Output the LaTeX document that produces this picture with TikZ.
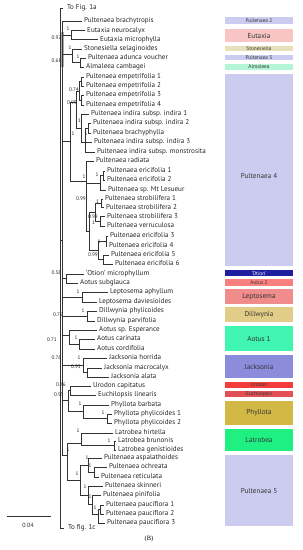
\documentclass[tikz,border=0pt]{standalone}
\usepackage{fontspec}
\setmainfont{PT Sans}
\newfontfamily\serifB{Liberation Serif}
\definecolor{lav}{HTML}{CCCCF0}
\definecolor{eutx}{HTML}{F8C4C4}
\definecolor{ston}{HTML}{E8E0B8}
\definecolor{alma}{HTML}{B4F5D7}
\definecolor{otion}{HTML}{1E1EA0}
\definecolor{aot2}{HTML}{FA8080}
\definecolor{lept}{HTML}{F08C8C}
\definecolor{dill}{HTML}{E1CD87}
\definecolor{aot1}{HTML}{40F5AF}
\definecolor{jack}{HTML}{8C8CDC}
\definecolor{urod}{HTML}{F53C3C}
\definecolor{euch}{HTML}{E15055}
\definecolor{phyl}{HTML}{D2B946}
\definecolor{latr}{HTML}{1EF082}
\begin{document}
\begin{tikzpicture}[x=1pt,y=-1pt,
  br/.style={line width=0.6pt, draw=black!80},
  tip/.style={anchor=west, inner xsep=2pt, inner ysep=0pt, text height=4.9pt, text depth=1.3pt, font=\fontsize{7.1}{7.2}\selectfont, text=black!85},
  far/.style={tip, inner xsep=4pt},
  sup/.style={inner sep=0pt, font=\fontsize{5.2}{5.2}\selectfont, text=black!85},
  supr/.style={sup, anchor=east},
  cbox/.style={minimum width=68pt, inner sep=0pt, text=black!80, font=\fontsize{7.2}{7.2}\selectfont},
  sbox/.style={cbox, font=\fontsize{5.3}{5.3}\selectfont}
]
\useasboundingbox (0,0) rectangle (303,550);
% gray bar
\fill[gray!65] (61,32) rectangle (63.6,67);
% tips
\node[far] (ta) at (63,8) {To Fig. 1a};
\node[far] (tc) at (64,528) {To fig. 1c};
\node[tip] (t1) at (82,21) {Pultenaea brachytropis};
\node[tip] (t2) at (85,30.5) {Eutaxia neurocalyx};
\node[tip] (t3) at (98,39.5) {Eutaxia microphylla};
\node[tip] (t4) at (82,49) {Stonesiella selaginoides};
\node[tip] (t5) at (86,58) {Pultenaea adunca voucher};
\node[tip] (t6) at (84,67) {Almaleea cambagei};
\node[tip] (t7) at (84,77) {Pultenaea empetrifolia 1};
\node[tip] (t8) at (84,86) {Pultenaea empetrifolia 2};
\node[tip] (t9) at (84,95) {Pultenaea empetrifolia 3};
\node[tip] (t10) at (84,105) {Pultenaea empetrifolia 4};
\node[tip] (t11) at (89,114) {Pultenaea indira subsp. indira 1};
\node[tip] (t12) at (91,123) {Pultenaea indira subsp. indira 2};
\node[tip] (t13) at (91,133) {Pultenaea brachyphylla};
\node[tip] (t14) at (92,142) {Pultenaea indira subsp. indira 3};
\node[tip] (t15) at (95,152) {Pultenaea indira subsp. monstrosita};
\node[tip] (t16) at (94,161) {Pultenaea radiata};
\node[tip] (t17) at (105,171) {Pultenaea ericifolia 1};
\node[tip] (t18) at (105,180) {Pultenaea ericifolia 2};
\node[tip] (t19) at (106,190) {Pultenaea sp. Mt Lesueur};
\node[tip] (t20) at (103,199) {Pultenaea strobilifera 1};
\node[tip] (t21) at (104,207.5) {Pultenaea strobilifera 2};
\node[tip] (t22) at (105,216.5) {Pultenaea strobilifera 3};
\node[tip] (t23) at (105,226) {Pultenaea verruculosa};
\node[tip] (t24) at (108,236) {Pultenaea ericifolia 3};
\node[tip] (t25) at (107,246) {Pultenaea ericifolia 4};
\node[tip] (t26) at (109,255) {Pultenaea ericifolia 5};
\node[tip] (t27) at (113,264) {Pultenaea ericifolia 6};
\node[tip] (t28) at (84,274) {‘Otion’ microphyllum};
\node[tip] (t29) at (78,283) {Aotus subglauca};
\node[tip] (t30) at (108,292) {Leptosema aphyllum};
\node[tip] (t31) at (97,302) {Leptosema daviesioides};
\node[tip] (t32) at (97,311) {Dillwynia phylicoides};
\node[tip] (t33) at (95,321) {Dillwynia parvifolia};
\node[tip] (t34) at (97,330) {Aotus sp. Esperance};
\node[tip] (t35) at (95,339) {Aotus carinata};
\node[tip] (t36) at (95,349) {Aotus cordifolia};
\node[tip] (t37) at (107,358) {Jacksonia horrida};
\node[tip] (t38) at (102,368) {Jacksonia macrocalyx};
\node[tip] (t39) at (109,377) {Jacksonia alata};
\node[tip] (t40) at (91,386) {Urodon capitatus};
\node[tip] (t41) at (96,395) {Euchilopsis linearis};
\node[tip] (t42) at (109,405) {Phyllota barbata};
\node[tip] (t43) at (112,414) {Phyllota phylicoides 1};
\node[tip] (t44) at (112,423) {Phyllota phylicoides 2};
\node[tip] (t45) at (113,433) {Latrobea hirtella};
\node[tip] (t46) at (116,441) {Latrobea brunonis};
\node[tip] (t47) at (116,450) {Latrobea genistioides};
\node[tip] (t48) at (102,458) {Pultenaea aspalathoides};
\node[tip] (t49) at (107,467) {Pultenaea ochreata};
\node[tip] (t50) at (99,477) {Pultenaea reticulata};
\node[tip] (t51) at (103,486) {Pultenaea skinneri};
\node[tip] (t52) at (101,495) {Pultenaea pinifolia};
\node[tip] (t53) at (104,505) {Pultenaea pauciflora 1};
\node[tip] (t54) at (104,514) {Pultenaea pauciflora 2};
\node[tip] (t55) at (105,523) {Pultenaea pauciflora 3};
% internal nodes
\coordinate (root) at (60,268);
\coordinate (core) at (62.5,240);
\coordinate (Eu) at (71,35);
\coordinate (St) at (72,54);
\coordinate (AdAl) at (80,62.5);
\coordinate (P4) at (70,141);
\coordinate (N099) at (76,102);
\coordinate (Emp) at (79,91);
\coordinate (e12) at (81,81.5);
\coordinate (e34) at (81,100);
\coordinate (Ind) at (81,128);
\coordinate (Ind2) at (85,142);
\coordinate (Ind3) at (88,128);
\coordinate (R) at (86,181);
\coordinate (E12M) at (100,183);
\coordinate (E12) at (103,175.5);
\coordinate (Low) at (89,231);
\coordinate (Sg) at (95,212);
\coordinate (S12) at (101,203);
\coordinate (S3V) at (100,221);
\coordinate (EL) at (98,250);
\coordinate (E34) at (106,241);
\coordinate (E56) at (103,259.5);
\coordinate (Ot) at (66,278);
\coordinate (Lep) at (82,297);
\coordinate (Dil) at (87,316);
\coordinate (Ao1) at (69,335);
\coordinate (CC) at (79,344);
\coordinate (Jac) at (83,365);
\coordinate (MA) at (87,372.5);
\coordinate (UEP) at (68,400);
\coordinate (UE) at (70,390.5);
\coordinate (Phy) at (83,411);
\coordinate (PP) at (107,418.5);
\coordinate (LP) at (67,455);
\coordinate (La) at (81,443);
\coordinate (LB) at (114,445.5);
\coordinate (P5) at (80,480);
\coordinate (Pa) at (88,465);
\coordinate (PoR) at (94,472);
\coordinate (Ps) at (88,495);
\coordinate (PinPau) at (92,504);
\coordinate (Pau) at (98,514);
\coordinate (Pau12) at (100,509.5);
% connectors
\foreach \p/\c in {root/ta.west, root/tc.west, root/core,
  core/t1.west, core/Eu, core/St, core/P4, core/Ot, core/Lep, core/Dil, core/Ao1, core/Jac, core/UEP, core/LP,
  Eu/t2.west, Eu/t3.west, St/t4.west, St/AdAl, AdAl/t5.west, AdAl/t6.west,
  P4/N099, P4/R, N099/Emp, N099/Ind, Emp/e12, Emp/e34, e12/t7.west, e12/t8.west, e34/t9.west, e34/t10.west,
  Ind/t11.west, Ind/Ind2, Ind2/Ind3, Ind2/t14.west, Ind2/t15.west, Ind3/t12.west, Ind3/t13.west,
  R/t16.west, R/E12M, R/Low, E12M/E12, E12M/t19.west, E12/t17.west, E12/t18.west,
  Low/Sg, Low/EL, Sg/S12, Sg/S3V, S12/t20.west, S12/t21.west, S3V/t22.west, S3V/t23.west,
  EL/E34, EL/E56, E34/t24.west, E34/t25.west, E56/t26.west, E56/t27.west,
  Ot/t28.west, Ot/t29.west, Lep/t30.west, Lep/t31.west, Dil/t32.west, Dil/t33.west,
  Ao1/t34.west, Ao1/CC, CC/t35.west, CC/t36.west, Jac/t37.west, Jac/MA, MA/t38.west, MA/t39.west,
  UEP/UE, UEP/Phy, UE/t40.west, UE/t41.west, Phy/t42.west, Phy/PP, PP/t43.west, PP/t44.west,
  LP/La, LP/P5, La/t45.west, La/LB, LB/t46.west, LB/t47.west,
  P5/Pa, P5/Ps, Pa/t48.west, Pa/PoR, PoR/t49.west, PoR/t50.west,
  Ps/t51.west, Ps/PinPau, PinPau/t52.west, PinPau/Pau, Pau/Pau12, Pau/t55.west, Pau12/t53.west, Pau12/t54.west}
  \draw[br] (\p) |- (\c);
% support values
\node[supr] (s1) at (61.5,38) {0.92};
\node[supr] (s2) at (61.5,61) {0.61};
\node[sup] (s3) at (68,29) {1};
\node[sup] (s4) at (70,48) {1};
\node[sup] (s5) at (78,57) {1};
\node[sup] (s6) at (74,90) {0.74};
\node[sup] (s7) at (72,103) {0.99};
\node[sup] (s8) at (79.5,121) {1};
\node[sup] (s9) at (86,134) {1};
\node[sup] (s10) at (73,134) {1};
\node[sup] (s11) at (84,177) {1};
\node[sup] (s12) at (97,175) {1};
\node[sup] (s13) at (81,199) {0.99};
\node[sup] (s14) at (97.5,202) {1};
\node[sup] (s15) at (93,217) {0.99};
\node[sup] (s16) at (93.5,223) {1};
\node[sup] (s17) at (99,242) {1};
\node[sup] (s18) at (93,255) {0.99};
\node[supr] (s19) at (61.5,273) {0.58};
\node[sup] (s20) at (78,292) {1};
\node[sup] (s21) at (83,311) {1};
\node[supr] (s22) at (63,315) {0.76};
\node[sup] (s23) at (52,340) {0.71};
\node[sup] (s24) at (76,338) {1};
\node[supr] (s25) at (61.5,358) {0.76};
\node[sup] (s26) at (79,358) {1};
\node[sup] (s27) at (76,367) {0.95};
\node[supr] (s28) at (66,385) {0.76};
\node[supr] (s29) at (64,395) {0.95};
\node[sup] (s30) at (80,404) {1};
\node[sup] (s31) at (103,413) {1};
\node[sup] (s32) at (78,431) {1};
\node[sup] (s33) at (109,441) {1};
\node[sup] (s34) at (68,450) {1};
\node[sup] (s35) at (87,458) {1};
\node[sup] (s36) at (90,466) {1};
\node[sup] (s37) at (77,474) {1};
\node[sup] (s38) at (85,487) {1};
\node[sup] (s39) at (90,497) {1};
\node[sup] (s40) at (95,508) {1};
% clade boxes
\node[sbox, fill=lav, minimum height=7pt] (b1) at (259,20.5) {Pultenaea 2};
\node[cbox, fill=eutx, minimum height=13pt] (b2) at (259,35.5) {Eutaxia};
\node[sbox, fill=ston, minimum height=5.5pt] (b3) at (259,48.5) {Stonesiella};
\node[sbox, fill=lav, minimum height=5.5pt] (b4) at (259,57.7) {Pultenaea 3};
\node[sbox, fill=alma, minimum height=6pt] (b5) at (259,67) {Almaleea};
\node[cbox, fill=lav, minimum height=192pt] (b6) at (259,170) {};
\node[cbox, fill=none] (b6t) at (259,176) {Pultenaea 4};
\node[sbox, fill=otion, text=white, minimum height=6pt] (b7) at (259,273) {‘Otion’};
\node[sbox, fill=aot2, minimum height=7pt] (b8) at (259,282.5) {Aotus 2};
\node[cbox, fill=lept, minimum height=15pt] (b9) at (259,296.5) {Leptosema};
\node[cbox, fill=dill, minimum height=15pt] (b10) at (259,314.5) {Dillwynia};
\node[cbox, fill=aot1, minimum height=25pt] (b11) at (259,338.5) {Aotus 1};
\node[cbox, fill=jack, minimum height=23pt] (b12) at (259,366.5) {Jacksonia};
\node[sbox, fill=urod, minimum height=6pt] (b13) at (259,385) {Urodon};
\node[sbox, fill=euch, minimum height=6pt] (b14) at (259,394) {Euchilopsis};
\node[cbox, fill=phyl, minimum height=24pt] (b15) at (259,413) {Phyllota};
\node[cbox, fill=latr, minimum height=22pt] (b16) at (259,440) {Latrobea};
\node[cbox, fill=lav, minimum height=71pt] (b17) at (259,490.5) {Pultenaea 5};
% scale bar
\coordinate (sb1) at (7,516);
\coordinate (sb2) at (51,516);
\draw[line width=0.6pt, black!80] (sb1) -- (sb2);
\node[inner sep=0pt, font=\fontsize{6}{6}\selectfont, text=black!85] (sbl) at (28,525) {0.04};
\node[inner sep=0pt, font=\serifB\fontsize{6.5}{6.5}\selectfont] (lblB) at (149,539) {(B)};
\end{tikzpicture}
\end{document}
